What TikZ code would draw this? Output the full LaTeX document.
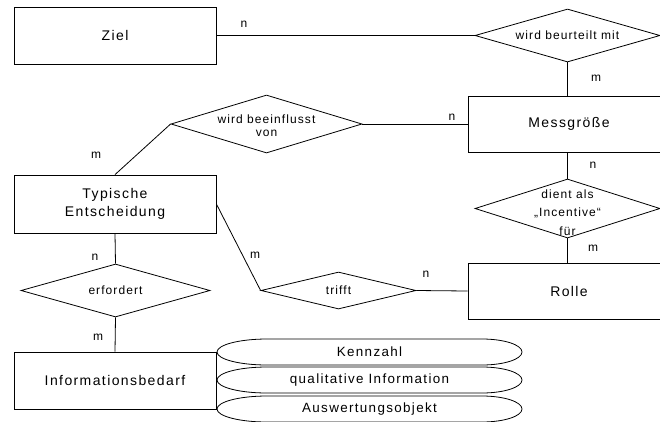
\documentclass[tikz,border=0pt]{standalone}
\usepackage{fontspec}
\setmainfont{Liberation Sans}
\newfontfamily\bigf[LetterSpace=10]{Liberation Sans}
\newfontfamily\smallf[LetterSpace=9]{Liberation Sans}
\usetikzlibrary{shapes.geometric}
\begin{document}
\begin{tikzpicture}[x=1pt,y=-1pt, line width=0.8pt,
  ent/.style={draw, rectangle, inner sep=0pt, minimum width=202pt, font=\bigf\fontsize{14}{17}\selectfont, align=center},
  rel/.style={draw, diamond, inner sep=0pt},
  reltext/.style={font=\smallf\fontsize{12}{14}\selectfont, align=center, inner sep=0pt},
  card/.style={font=\smallf\fontsize{12}{14}\selectfont, inner sep=0pt},
  attrtext/.style={font=\bigf\fontsize{13.4}{16}\selectfont, inner sep=0pt}
]
\useasboundingbox (0,0) rectangle (660,421);
\clip (0,0) rectangle (660,421);

% entities
\node[ent, minimum height=57pt] (ziel) at (115,35.5) {Ziel};
\node[ent, minimum height=58pt] (typ) at (115,204) {Typische\\[1pt]Entscheidung};
\node[ent, minimum height=57pt] (info) at (115,380.5) {Informationsbedarf};
\node[ent, minimum height=56pt] (mess) at (569,124) {Messgröße};
\node[ent, minimum height=56pt] (rolle) at (569,291) {Rolle};

% relationships
\node[rel, minimum width=185pt, minimum height=53pt] (beur) at (567.5,35.5) {};
\node[reltext] (beurt) at (beur.center) {wird beurteilt mit};
\node[rel, minimum width=191pt, minimum height=58pt] (beein) at (266.5,124) {};
\node[reltext, font=\smallf\fontsize{12}{13.5}\selectfont] (beeint) at (266.5,125.5) {wird beeinflusst\\von};
\node[rel, minimum width=185pt, minimum height=59pt] (dient) at (567.5,208.5) {};
\node[reltext, font=\smallf\fontsize{12}{18.5}\selectfont] (dientt) at (567.5,212.5) {dient als\\„Incentive“\\für};
\node[rel, minimum width=189pt, minimum height=53pt] (erf) at (115.5,290.5) {};
\node[reltext] (erft) at (erf.center) {erfordert};
\node[rel, minimum width=155pt, minimum height=37pt] (trifft) at (338.5,290.5) {};
\node[reltext] (trifftt) at (trifft.center) {trifft};

% connectors
\draw (ziel.east) -- (beur.west);
\draw (beur.south) -- (beur.south |- mess.north);
\draw (beein.east) -- (mess.west);
\draw (beein.west) -- (typ.north);
\draw (dient.north |- mess.south) -- (dient.north);
\draw (dient.south) -- (dient.south |- rolle.north);
\draw (typ.east) -- (trifft.west);
\draw (trifft.east) -- (rolle.west);
\draw (typ.south) -- (erf.north);
\draw (erf.south) -- (info.north);

% cardinalities
\node[card] (c1) at (244,24) {n};
\node[card] (c2) at (596,78) {m};
\node[card] (c3) at (452,117) {n};
\node[card] (c4) at (96,155) {m};
\node[card] (c5) at (593,165) {n};
\node[card] (c6) at (593,248) {m};
\node[card] (c7) at (255,255) {m};
\node[card] (c8) at (426,274) {n};
\node[card] (c9) at (95,257) {n};
\node[card] (c10) at (98,337) {m};

% attributes
\foreach \yc/\name/\txt in {352/a1/Kennzahl, 380/a2/qualitative Information, 409/a3/Auswertungsobjekt}{
  \draw[fill=white] (267,\yc-13) -- (482,\yc-13)
     arc[start angle=-90, end angle=90, x radius=40, y radius=13]
     -- (267,\yc+13)
     arc[start angle=90, end angle=270, x radius=50, y radius=13] -- cycle;
  \node[attrtext] (\name) at (369.5,\yc) {\txt};
}
\end{tikzpicture}
\end{document}
